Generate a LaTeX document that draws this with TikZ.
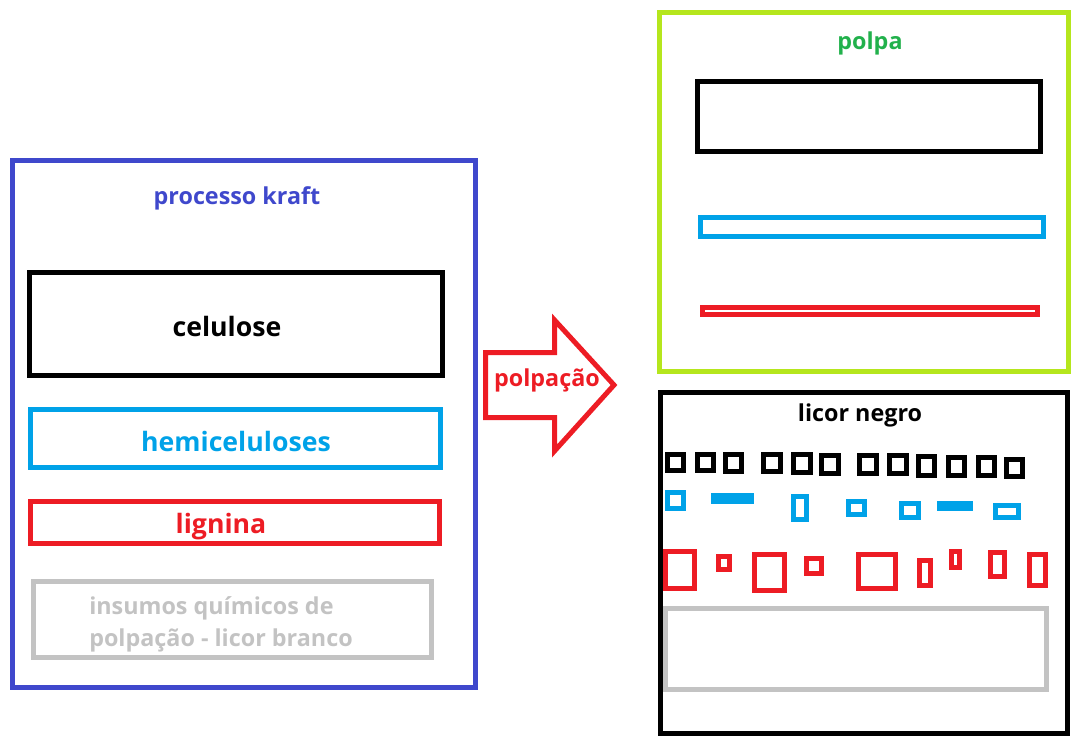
\documentclass[tikz,border=0pt]{standalone}
\usepackage{fontspec}
\setmainfont{Open Sans}
\definecolor{paintblue}{RGB}{63,72,204}
\definecolor{paintcyan}{RGB}{0,162,232}
\definecolor{paintred}{RGB}{237,28,36}
\definecolor{paintlime}{RGB}{181,230,29}
\definecolor{paintgreen}{RGB}{34,177,76}
\definecolor{paintgray}{RGB}{195,195,195}
\tikzset{
  box/.style={line width=3.75pt},
  label/.style={inner sep=0.75pt,font=\bfseries\fontsize{17.5}{24}\selectfont},
  biglabel/.style={inner sep=0.75pt,font=\bfseries\fontsize{20}{24}\selectfont},
}
\begin{document}
\begin{tikzpicture}[x=0.75pt,y=0.75pt,yscale=-1,xscale=1]
\useasboundingbox (0,0) rectangle (1073,736);

%Shape: Rectangle processo kraft
\draw [box,color=paintblue] (12.5,160.5) rectangle (475.5,687.5);
\draw [box,color=black] (29.5,272.5) rectangle (442.5,375.5);
\draw [box,color=paintcyan] (30.5,409.5) rectangle (440.5,467.5);
\draw [box,color=paintred] (30.5,501.5) rectangle (439.5,543.5);
\draw [box,color=paintgray] (33.5,581.5) rectangle (431.5,657.5);

% Text Node
\node [label,color=paintblue] (kraft) at (237,198) {processo kraft};
% Text Node
\node [biglabel,color=black] (celulose) at (227,326) {celulose};
% Text Node
\node [biglabel,color=paintcyan] (hemi) at (236,441) {hemiceluloses};
% Text Node
\node [biglabel,color=paintred] (lignina) at (221,527) {lignina};
% Text Node
\node [label,color=paintgray,anchor=west,align=left] (insumos) at (88,624) {insumos químicos de\\polpação - licor branco};

%Shape: Right Arrow
\draw [box,color=paintred] (485.5,352.5) -- (554.5,352.5) -- (554.5,320) -- (614,385) -- (554.5,451) -- (554.5,417.5) -- (485.5,417.5) -- cycle ;
% Text Node
\node [label,color=paintred] (polpacao) at (547,380) {polpação};

%Shape: Rectangle polpa
\draw [box,color=paintlime] (659.5,12.5) rectangle (1068.5,371.5);
\draw [box,color=black] (697.5,81.5) rectangle (1040.5,151.5);
\draw [box,color=paintcyan] (700.5,217.5) rectangle (1043.5,236.5);
\draw [box,color=paintred] (702.5,307.5) rectangle (1037.5,314.5);
% Text Node
\node [label,color=paintgreen] (polpa) at (870,43) {polpa};

%Shape: Rectangle licor negro
\draw [box,color=black] (660.5,392.5) rectangle (1067.5,733.5);
\draw [box,color=paintgray] (665.5,608.5) rectangle (1046.5,689.5);
% Text Node
\node [label,color=black] (licor) at (860,415) {licor negro};

%Shape: small pieces
\foreach \xa/\ya/\xb/\yb in {665/452/686/473, 695/452/716/473, 723/452/744/474, 761/452/783/474, 791/452/813/475, 819/453/841/476, 857/453/879/476, 887/453/909/476, 916/454/937/478, 946/455/967/478, 976/455/997/478, 1004/457/1025/479}
  \draw [box,color=black] (\xa+2.5,\ya+2.5) rectangle (\xb-2.5,\yb-2.5);
\foreach \xa/\ya/\xb/\yb in {665/490/686/511, 791/494/809/522, 846/499/867/517, 899/501/921/520, 993/503/1021/520}
  \draw [box,color=paintcyan] (\xa+2.5,\ya+2.5) rectangle (\xb-2.5,\yb-2.5);
\fill [paintcyan] (711,493) rectangle (754,504);
\fill [paintcyan] (937,501) rectangle (973,511);
\foreach \xa/\ya/\xb/\yb in {663/549/697/591, 716/554/732/572, 752/552/787/593, 804/556/824/576, 856/552/898/591, 917/558/933/588, 949/549/962/570, 988/550/1007/579, 1027/552/1048/588}
  \draw [box,color=paintred] (\xa+2.5,\ya+2.5) rectangle (\xb-2.5,\yb-2.5);

\end{tikzpicture}
\end{document}
